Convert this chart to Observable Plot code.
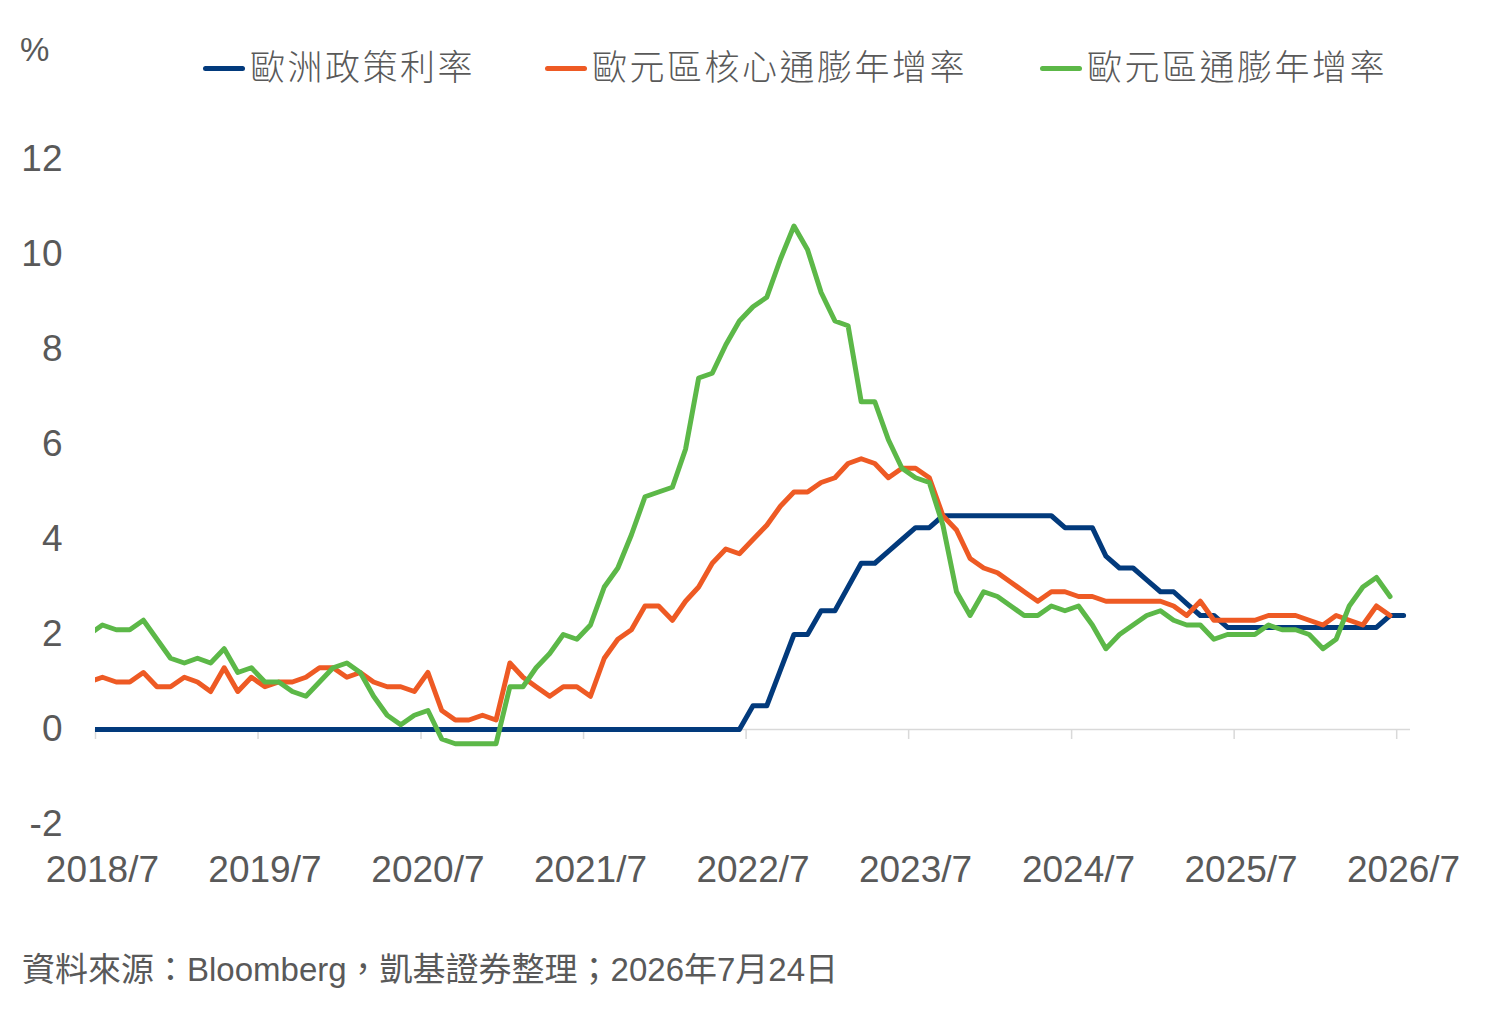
<!DOCTYPE html>
<html lang="zh-Hant">
<head>
<meta charset="utf-8">
<script src="https://cdn.jsdelivr.net/npm/d3@7"></script>
<script src="https://cdn.jsdelivr.net/npm/@observablehq/plot@0.6"></script>
<style>
  body { margin: 0; background: #fff; }
  #wrap { position: relative; width: 1509px; height: 1018px; font-family: "Liberation Sans", "Noto Sans CJK TC", sans-serif; color: #595959; }
  #head { position: relative; height: 110px; }
  .pct { position: absolute; left: 20px; top: 30px; font-size: 33px; line-height: 40px; }
  .leg { position: absolute; top: 46px; height: 44px; display: flex; align-items: center; font-size: 35px; line-height: 44px; letter-spacing: 2.5px; font-weight: 300; white-space: nowrap; }
  .sw { display: inline-block; width: 42px; height: 5px; border-radius: 3px; margin-right: 5px; }
  #chart svg { display: block; }
  #foot { position: absolute; left: 22px; top: 948px; font-size: 33px; line-height: 44px; white-space: nowrap; }
</style>
</head>
<body>
<div id="wrap">
  <div id="head"><div class="pct">%</div></div>
  <div id="chart"></div>
  <div id="foot"></div>
</div>
<script>
// ---- data (monthly, first month = 2018/6) ----
const seriesNames = ["歐洲政策利率", "歐元區核心通膨年增率", "歐元區通膨年增率"];
const seriesColors = ["#023a7c", "#ee5a24", "#5cb848"];
const legendLeft = [203, 545, 1040];

const policyRate = [
  0,0,0,0,0,0,0,0,0,0,0,0,0,0,0,0,0,0,0,0,0,0,0,0,0,0,0,0,0,0,0,0,0,0,0,0,0,0,0,0,0,0,0,0,0,0,0,0,0,
  0.5,0.5,1.25,2.0,2.0,2.5,2.5,3.0,3.5,3.5,3.75,4.0,4.25,4.25,
  4.5,4.5,4.5,4.5,4.5,4.5,4.5,4.5,4.5,
  4.25,4.25,4.25,3.65,3.4,3.4,3.15,2.9,2.9,2.65,2.4,2.4,
  2.15,2.15,2.15,2.15,2.15,2.15,2.15,2.15,2.15,2.15,2.15,2.15,
  2.4,2.4
];
const coreCPI = [
  1.0,1.1,1.0,1.0,1.2,0.9,0.9,1.1,1.0,0.8,1.3,0.8,1.1,0.9,1.0,1.0,1.1,1.3,1.3,1.1,
  1.2,1.0,0.9,0.9,0.8,1.2,0.4,0.2,0.2,0.3,0.2,1.4,1.1,0.9,0.7,0.9,0.9,0.7,1.5,1.9,
  2.1,2.6,2.6,2.3,2.7,3.0,3.5,3.8,3.7,4.0,4.3,4.7,5.0,5.0,5.2,5.3,5.6,5.7,5.6,5.3,
  5.5,5.5,5.3,4.5,4.2,3.6,3.4,3.3,3.1,2.9,2.7,2.9,2.9,2.8,2.8,2.7,2.7,2.7,2.7,2.7,
  2.6,2.4,2.7,2.3,2.3,2.3,2.3,2.4,2.4,2.4,2.3,2.2,2.4,2.3,2.2,2.6,2.4
];
const headlineCPI = [
  2.0,2.2,2.1,2.1,2.3,1.9,1.5,1.4,1.5,1.4,1.7,1.2,1.3,1.0,1.0,0.8,0.7,1.0,1.3,1.4,
  1.2,0.7,0.3,0.1,0.3,0.4,-0.2,-0.3,-0.3,-0.3,-0.3,0.9,0.9,1.3,1.6,2.0,1.9,2.2,3.0,3.4,
  4.1,4.9,5.0,5.1,5.9,7.4,7.5,8.1,8.6,8.9,9.1,9.9,10.6,10.1,9.2,8.6,8.5,6.9,6.9,6.1,
  5.5,5.3,5.2,4.3,2.9,2.4,2.9,2.8,2.6,2.4,2.4,2.6,2.5,2.6,2.2,1.7,2.0,2.2,2.4,2.5,
  2.3,2.2,2.2,1.9,2.0,2.0,2.0,2.2,2.1,2.1,2.0,1.7,1.9,2.6,3.0,3.2,2.8
];
const yTicks = [-2, 0, 2, 4, 6, 8, 10, 12];
const tickYears = [2018, 2019, 2020, 2021, 2022, 2023, 2024, 2025, 2026];
const footText = "資料來源：Bloomberg，凱基證券整理；2026年7月24日";

// ---- build ----
const monthStarts = d3.utcMonth.range(new Date(Date.UTC(2018, 5, 1)), new Date(Date.UTC(2026, 7, 1)));
const midMonth = d => new Date((+d + +d3.utcMonth.offset(d, 1)) / 2);
const allSeries = [policyRate, coreCPI, headlineCPI];
const rows = allSeries.map((vals, s) => vals.map((v, i) => ({date: midMonth(monthStarts[i]), value: v, series: seriesNames[s]})));

const tickStarts = tickYears.map(y => new Date(Date.UTC(y, 6, 1)));
const labelDates = tickStarts.map(midMonth);

const head = d3.select("#head");
seriesNames.forEach((name, i) => {
  const item = head.append("div").attr("class", "leg").style("left", legendLeft[i] + "px");
  item.append("span").attr("class", "sw").style("background", seriesColors[i]);
  item.append("span").text(name);
});
d3.select("#foot").text(footText);

const chart = Plot.plot({
  width: 1509,
  height: 800,
  marginLeft: 95,
  marginRight: 99,
  marginTop: 49,
  marginBottom: 86,
  style: {fontFamily: '"Liberation Sans", "Noto Sans CJK TC", sans-serif', fontSize: "37px", color: "#595959", background: "#fff"},
  x: {type: "utc", domain: [new Date(Date.UTC(2018, 6, 1)), new Date(Date.UTC(2026, 7, 1))]},
  y: {domain: [-2, 12]},
  marks: [
    Plot.ruleY([0], {stroke: "#d9d9d9", strokeWidth: 1.5}),
    Plot.ruleX(tickStarts, {x: d => d, y1: d => 0, y2: d => 0, insetBottom: -10, stroke: "#d9d9d9", strokeWidth: 1.5}),
    ...rows.map((r, s) => Plot.lineY(r, {x: "date", y: "value", stroke: seriesColors[s], strokeWidth: 5, strokeLinejoin: "round", clip: true})),
    Plot.axisY({ticks: yTicks, tickSize: 0, tickPadding: 33, tickFormat: d => String(d), label: null, fill: "#595959"}),
    Plot.axisX({ticks: labelDates, tickSize: 0, tickPadding: 31, tickFormat: d => `${d.getUTCFullYear()}/${d.getUTCMonth() + 1}`, label: null, fill: "#595959"})
  ]
});
document.getElementById("chart").appendChild(chart);
</script>
</body>
</html>
